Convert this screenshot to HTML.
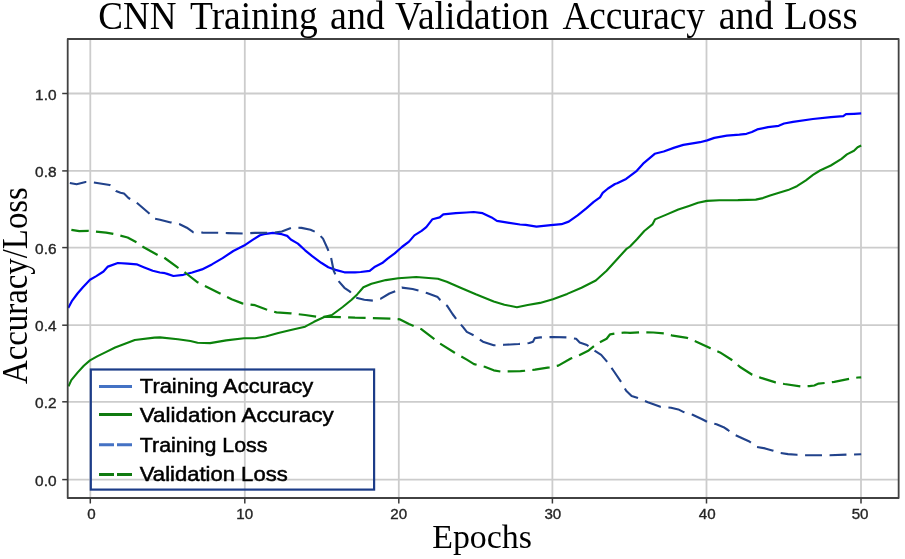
<!DOCTYPE html>
<html><head><meta charset="utf-8"><style>
html,body{margin:0;padding:0;background:#fff;}
svg{display:block;filter:blur(0.35px);}
.serif{font-family:"Liberation Serif",serif;}
.sans{font-family:"Liberation Sans",sans-serif;}
</style></head><body>
<svg width="905" height="559" viewBox="0 0 905 559">
<rect width="905" height="559" fill="#fff"/>
<g stroke="#cccccc" stroke-width="1.8"><line x1="90.3" y1="39.0" x2="90.3" y2="498.0"/><line x1="244.8" y1="39.0" x2="244.8" y2="498.0"/><line x1="398.8" y1="39.0" x2="398.8" y2="498.0"/><line x1="552.4" y1="39.0" x2="552.4" y2="498.0"/><line x1="706.5" y1="39.0" x2="706.5" y2="498.0"/><line x1="861.0" y1="39.0" x2="861.0" y2="498.0"/><line x1="67.7" y1="479.6" x2="898.65" y2="479.6"/><line x1="67.7" y1="401.8" x2="898.65" y2="401.8"/><line x1="67.7" y1="325.2" x2="898.65" y2="325.2"/><line x1="67.7" y1="247.6" x2="898.65" y2="247.6"/><line x1="67.7" y1="170.9" x2="898.65" y2="170.9"/><line x1="67.7" y1="93.5" x2="898.65" y2="93.5"/></g>
<defs><clipPath id="ax"><rect x="67.7" y="39.0" width="830.9499999999999" height="459.0"/></clipPath></defs>
<g clip-path="url(#ax)" fill="none" stroke-linejoin="round">
<path d="M68.2,308.1 L72.2,300.6 L77.5,293.5 L82.9,287.2 L90.0,279.7 L96.3,276.1 L103.5,271.5 L107.9,266.6 L117.8,263.0 L127.6,263.6 L136.6,264.3 L143.7,267.2 L152.7,270.7 L159.8,272.5 L165.0,273.2 L167.2,273.9 L173.4,276.0 L183.3,274.8 L192.2,272.5 L202.0,269.4 L211.9,264.4 L222.6,258.1 L233.3,251.0 L244.1,245.6 L253.0,239.7 L260.0,235.2 L263.9,234.2 L272.9,232.9 L281.8,234.2 L287.2,235.9 L290.8,239.5 L297.9,243.6 L305.1,250.3 L312.2,256.2 L321.2,262.8 L328.3,267.2 L335.5,269.9 L344.4,272.3 L355.0,272.3 L360.7,272.0 L369.7,270.8 L375.0,266.7 L382.2,263.1 L387.6,258.6 L394.7,253.3 L401.9,247.0 L409.0,241.6 L414.4,235.4 L421.6,230.9 L426.3,227.2 L432.5,219.2 L439.7,217.4 L443.3,214.3 L455.8,213.2 L466.5,212.5 L473.7,212.0 L482.6,213.2 L491.6,217.4 L496.9,220.9 L507.7,222.7 L520.0,224.5 L525.7,224.8 L536.5,226.6 L550.8,225.1 L561.5,224.2 L568.7,221.6 L577.6,215.3 L586.6,208.1 L593.7,201.9 L600.0,197.4 L602.7,192.9 L608.0,188.5 L615.0,184.0 L617.2,183.3 L626.1,178.9 L636.8,170.8 L644.0,162.8 L654.7,153.8 L663.7,151.5 L674.4,147.6 L683.3,144.9 L694.1,143.1 L700.0,142.2 L707.2,140.4 L714.3,137.9 L726.8,135.6 L739.4,134.7 L746.5,133.8 L751.9,132.0 L757.2,129.4 L768.0,127.2 L778.7,125.8 L784.1,123.5 L793.0,121.8 L812.9,119.0 L830.8,117.2 L843.3,116.1 L846.0,114.2 L854.0,113.8 L861.2,113.3" stroke="#0000ff" stroke-width="2.2"/>
<path d="M68.5,386.4 L71.3,380.1 L77.5,372.6 L83.8,365.7 L90.0,360.4 L97.6,356.1 L106.3,351.9 L115.1,347.5 L125.0,343.8 L134.8,340.0 L154.4,337.6 L160.0,337.4 L177.9,339.2 L190.4,341.0 L197.6,342.8 L210.1,343.1 L226.2,340.4 L244.1,338.3 L255.0,338.3 L265.7,336.5 L278.3,332.9 L290.8,329.9 L305.1,326.7 L314.0,321.8 L324.8,316.8 L331.9,315.0 L342.7,307.0 L351.6,299.8 L357.2,294.4 L363.4,287.2 L371.5,283.7 L385.8,280.1 L398.3,278.3 L416.2,277.0 L437.9,278.7 L446.8,281.8 L461.1,288.0 L475.8,294.3 L493.7,301.5 L504.4,304.7 L516.9,307.2 L527.7,305.0 L540.0,302.9 L552.9,299.3 L567.2,293.9 L581.5,287.7 L595.8,280.5 L606.6,270.7 L617.3,259.0 L626.2,249.2 L630.0,246.5 L637.2,239.0 L644.3,231.0 L652.4,224.4 L655.0,219.4 L665.8,214.9 L678.3,209.5 L689.0,205.9 L698.0,202.7 L706.9,200.9 L719.4,200.2 L737.9,200.1 L755.8,199.6 L762.9,198.1 L770.1,195.5 L779.0,192.8 L788.0,190.1 L796.9,186.2 L805.9,180.3 L813.0,174.9 L820.0,170.5 L830.8,165.5 L841.5,158.9 L846.9,154.4 L854.0,150.8 L857.6,147.2 L861.2,145.5" stroke="#0b820b" stroke-width="2.1"/>
<path d="M67.7,182.6 L69.5,182.9 L76.6,184.3 L85.6,182.0 L93.6,182.4 L109.7,185.0 L116.0,191.0 L120.5,192.7 L124.0,193.6 L128.5,198.0 L136.6,202.6 L149.0,213.3 L154.4,218.7 L160.0,219.7 L170.7,222.4 L179.7,224.2 L186.8,227.7 L193.1,232.2 L202.9,232.6 L213.7,232.7 L228.0,233.1 L244.1,233.5 L255.0,232.9 L272.9,232.7 L281.8,231.5 L292.6,227.4 L301.5,227.9 L310.5,229.7 L317.6,232.9 L323.0,238.6 L327.5,248.5 L331.0,257.4 L333.7,270.8 L338.2,280.7 L344.4,287.8 L350.0,291.7 L355.4,297.6 L364.3,299.8 L373.3,300.7 L380.4,298.9 L389.4,293.5 L396.5,290.8 L401.9,287.6 L412.6,289.0 L419.8,290.8 L426.9,293.0 L437.7,297.1 L440.0,299.7 L447.2,305.9 L452.5,314.0 L457.9,321.1 L463.3,327.4 L466.8,331.9 L474.0,335.5 L482.9,341.7 L493.7,345.3 L504.4,344.8 L518.7,344.0 L529.4,343.0 L533.0,341.7 L534.8,338.1 L540.4,337.4 L552.9,337.0 L567.2,337.4 L576.1,338.8 L579.7,342.4 L586.9,345.0 L594.0,350.4 L601.2,354.9 L606.6,361.1 L613.7,371.0 L620.9,381.7 L626.2,390.7 L631.6,396.0 L637.2,397.8 L647.9,402.3 L660.4,406.8 L671.1,407.7 L678.3,409.4 L683.7,412.1 L692.6,414.8 L702.2,419.3 L707.9,422.2 L716.5,424.3 L723.6,427.2 L727.9,430.0 L735.1,435.0 L742.2,438.3 L749.4,441.5 L756.5,446.9 L765.1,448.4 L772.3,450.4 L779.4,452.9 L788.0,454.1 L796.9,454.8 L804.9,455.3 L829.7,455.3 L846.6,454.6 L861.2,454.3" stroke="#21428b" stroke-width="2.1" stroke-dasharray="16.9 7.6" stroke-dashoffset="-2.16"/>
<path d="M67.7,229.5 L71.3,229.8 L79.3,231.2 L88.3,230.8 L106.1,232.6 L113.3,233.9 L127.6,237.5 L136.6,242.3 L143.7,247.3 L158.0,255.3 L163.6,257.2 L177.9,267.6 L185.0,272.5 L197.6,282.3 L206.5,286.8 L219.0,293.0 L231.6,299.3 L242.3,303.4 L255.0,305.2 L265.7,309.3 L276.5,312.4 L290.8,313.3 L305.1,315.0 L317.6,316.8 L330.1,316.8 L344.4,317.2 L355.0,317.7 L367.9,318.0 L391.1,318.6 L400.1,319.4 L409.0,323.9 L421.6,329.3 L440.0,343.5 L454.3,352.5 L466.8,359.6 L474.0,364.1 L484.7,366.8 L493.7,370.3 L500.8,371.6 L520.5,371.2 L535.0,369.7 L549.3,367.4 L558.3,365.6 L570.8,358.5 L579.7,354.9 L588.7,350.4 L597.6,343.3 L606.6,338.8 L610.1,334.3 L615.5,333.4 L624.4,332.5 L630.0,332.9 L640.7,332.2 L653.3,332.5 L664.0,333.4 L672.9,335.7 L687.2,337.9 L698.0,342.4 L710.5,348.3 L720.0,352.4 L732.5,360.4 L739.7,366.7 L752.2,374.7 L761.1,377.9 L775.5,382.4 L784.4,384.0 L800.5,386.4 L809.3,386.1 L814.3,385.5 L818.6,383.6 L825.8,382.9 L834.3,381.8 L842.9,380.1 L850.8,378.6 L857.9,377.5 L861.2,377.3" stroke="#0b820b" stroke-width="2.2" stroke-dasharray="17.5 7.28" stroke-dashoffset="-3.68"/>
</g>
<rect x="67.7" y="39.0" width="830.9499999999999" height="459.0" fill="none" stroke="#424242" stroke-width="1.8" stroke-linejoin="round"/>
<g stroke="#3a3a3a" stroke-width="1.5"><line x1="90.3" y1="498.0" x2="90.3" y2="503.5"/><line x1="244.8" y1="498.0" x2="244.8" y2="503.5"/><line x1="398.8" y1="498.0" x2="398.8" y2="503.5"/><line x1="552.4" y1="498.0" x2="552.4" y2="503.5"/><line x1="706.5" y1="498.0" x2="706.5" y2="503.5"/><line x1="861.0" y1="498.0" x2="861.0" y2="503.5"/><line x1="62.2" y1="479.6" x2="67.7" y2="479.6"/><line x1="62.2" y1="401.8" x2="67.7" y2="401.8"/><line x1="62.2" y1="325.2" x2="67.7" y2="325.2"/><line x1="62.2" y1="247.6" x2="67.7" y2="247.6"/><line x1="62.2" y1="170.9" x2="67.7" y2="170.9"/><line x1="62.2" y1="93.5" x2="67.7" y2="93.5"/></g>
<g class="sans" font-size="14" fill="#262626" stroke="#262626" stroke-width="0.35"><text transform="translate(91.50,519.2) scale(1.08,1)" text-anchor="middle">0</text><text transform="translate(244.75,519.2) scale(1.08,1)" text-anchor="middle">10</text><text transform="translate(398.75,519.2) scale(1.08,1)" text-anchor="middle">20</text><text transform="translate(552.85,519.2) scale(1.08,1)" text-anchor="middle">30</text><text transform="translate(707.20,519.2) scale(1.08,1)" text-anchor="middle">40</text><text transform="translate(860.10,519.2) scale(1.08,1)" text-anchor="middle">50</text><text transform="translate(56.5,485.7) scale(1.1,1)" text-anchor="end">0.0</text><text transform="translate(56.5,407.9) scale(1.1,1)" text-anchor="end">0.2</text><text transform="translate(56.5,331.3) scale(1.1,1)" text-anchor="end">0.4</text><text transform="translate(56.5,253.7) scale(1.1,1)" text-anchor="end">0.6</text><text transform="translate(56.5,177.0) scale(1.1,1)" text-anchor="end">0.8</text><text transform="translate(56.5,99.6) scale(1.1,1)" text-anchor="end">1.0</text></g>
<g class="serif" font-size="41" fill="#000"><text transform="translate(98.35,29.0) scale(0.9045,1)">CNN</text><text transform="translate(190.06,29.0) scale(0.9145,1)">Training</text><text transform="translate(330.05,29.0) scale(0.9259,1)">and</text><text transform="translate(395.10,29.0) scale(0.9134,1)">Validation</text><text transform="translate(562.40,29.0) scale(0.9076,1)">Accuracy</text><text transform="translate(718.75,29.0) scale(0.9242,1)">and</text><text transform="translate(784.03,29.0) scale(0.9499,1)">Loss</text></g>
<text class="serif" font-size="33.5" fill="#000" transform="translate(432.2,548) scale(1.012,1)">Epochs</text>
<text class="serif" font-size="35" fill="#000" transform="translate(27,384) rotate(-90) scale(0.938,1)">Accuracy/Loss</text>
<rect x="90.8" y="369.5" width="283.3" height="120.1" fill="none" stroke="#1c3c88" stroke-width="2.2"/>
<g stroke-width="3">
<line x1="99" y1="386.5" x2="132" y2="386.5" stroke="#4472c4"/>
<line x1="99" y1="414.5" x2="132" y2="414.5" stroke="#107a10"/>
<line x1="99" y1="444.8" x2="132" y2="444.8" stroke="#4472c4" stroke-dasharray="15 3"/>
<line x1="99" y1="474.5" x2="132" y2="474.5" stroke="#107a10" stroke-dasharray="15 3"/>
</g>
<g class="sans" font-size="20.6" fill="#000" stroke="#000" stroke-width="0.5">
<text transform="translate(139.8,392.6) scale(1.065,1)">Training Accuracy</text>
<text transform="translate(139.8,421.9) scale(1.088,1)">Validation Accuracy</text>
<text transform="translate(139.8,451.5) scale(1.039,1)">Training Loss</text>
<text transform="translate(139.8,480.5) scale(1.071,1)">Validation Loss</text>
</g>
</svg>
</body></html>
